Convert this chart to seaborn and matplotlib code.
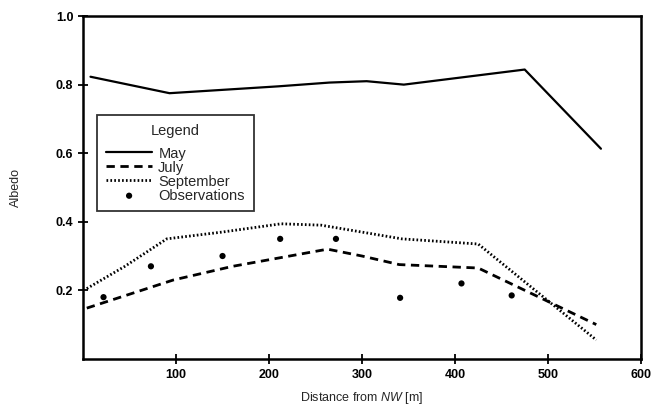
import matplotlib
matplotlib.use('Agg')
import matplotlib.pyplot as plt
import seaborn as sns

# Albedo along the profile
may_x = [8, 93, 210, 265, 305, 345, 475, 557]
may_y = [0.823, 0.775, 0.795, 0.806, 0.81, 0.80, 0.844, 0.613]

july_x = [4, 97, 161, 263, 300, 340, 425, 552]
july_y = [0.148, 0.23, 0.27, 0.32, 0.30, 0.275, 0.265, 0.10]

sept_x = [4, 45, 90, 150, 213, 256, 343, 425, 552]
sept_y = [0.205, 0.27, 0.35, 0.37, 0.394, 0.39, 0.35, 0.335, 0.055]

obs_x = [22, 73, 150, 212, 272, 341, 407, 461]
obs_y = [0.18, 0.27, 0.30, 0.35, 0.35, 0.178, 0.22, 0.185]

x_ticks = [100, 200, 300, 400, 500, 600]
y_ticks = [0.2, 0.4, 0.6, 0.8, 1.0]

sns.set_style("ticks")
plt.rcParams['font.family'] = ['Liberation Sans', 'DejaVu Sans']
plt.rcParams['mathtext.fontset'] = 'custom'
plt.rcParams['mathtext.it'] = 'Liberation Sans:italic'
plt.rcParams['mathtext.rm'] = 'Liberation Sans'

fig = plt.figure(figsize=(6.54, 4.12), dpi=100)
ax = fig.add_axes([0.127, 0.129, 0.853, 0.832])

sns.lineplot(x=may_x, y=may_y, ax=ax, color='black', lw=1.6, label='May')
sns.lineplot(x=july_x, y=july_y, ax=ax, color='black', lw=2.0,
             linestyle=(0, (3, 2)), label='July')
sns.lineplot(x=sept_x, y=sept_y, ax=ax, color='black', lw=2.0,
             linestyle=(0, (0.6, 0.8)), label='September')
sns.scatterplot(x=obs_x, y=obs_y, ax=ax, color='black', s=20,
                edgecolor='none', label='Observations')

ax.set_xlim(0, 600)
ax.set_ylim(0, 1.0)
ax.set_xticks(x_ticks)
ax.set_yticks(y_ticks)
ax.set_yticklabels([f"{v:.1f}" for v in y_ticks])
ax.tick_params(direction='inout', length=7, width=1.3, labelsize=9, colors='black')
for lab in ax.get_xticklabels() + ax.get_yticklabels():
    lab.set_fontweight('bold')
for s in ax.spines.values():
    s.set_visible(True)
    s.set_linewidth(1.8)
    s.set_color('black')

ax.set_xlabel(r"Distance from $\it{NW}$ [m]", fontsize=9, labelpad=7)
ax.set_ylabel("Albedo", fontsize=9, labelpad=24)

leg = ax.legend(title='Legend', loc='upper left', bbox_to_anchor=(0.025, 0.71),
                frameon=True, fancybox=False, edgecolor='black', fontsize=10.5,
                title_fontsize=10.5, handlelength=3.2, borderpad=0.6,
                labelspacing=0.0, handletextpad=0.4, borderaxespad=0)
leg.get_frame().set_linewidth(1.3)
leg._legend_box.sep = 6

fig.savefig('out.png', dpi=100)
